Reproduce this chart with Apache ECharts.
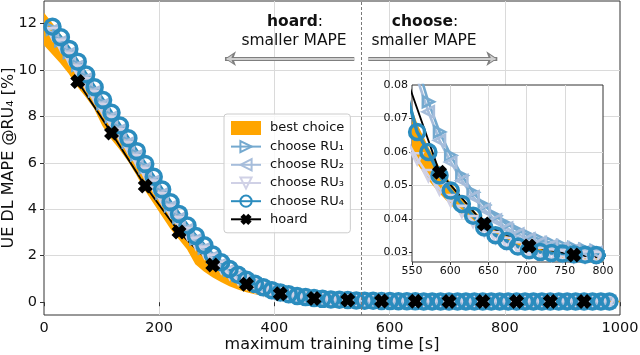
<!DOCTYPE html>
<html>
<head>
<meta charset="utf-8">
<script src="https://cdn.jsdelivr.net/npm/echarts@6/dist/echarts.min.js"></script>
<style>
  html, body { margin: 0; padding: 0; background: #fff; }
  #chart { width: 640px; height: 355px; }
</style>
</head>
<body>
<div id="chart"></div>
<script>
// x positions (training time, s)
const chooseX = [14.7, 29.3, 44.0, 58.6, 73.3, 87.9, 102.6, 117.2, 131.9, 146.5,
  161.2, 175.8, 190.5, 205.1, 219.8, 234.4, 249.1, 263.7, 278.4, 293.0,
  307.7, 322.3, 337.0, 351.6, 366.3, 380.9, 395.6, 410.2, 424.9, 439.5,
  454.2, 468.8, 483.5, 498.1, 512.8, 527.4, 542.1, 556.7, 571.4, 586.0,
  600.7, 615.3, 630.0, 644.6, 659.3, 673.9, 688.6, 703.2, 717.9, 732.5,
  747.2, 761.8, 776.5, 791.1, 805.8, 820.4, 835.1, 849.7, 864.4, 879.0,
  893.7, 908.3, 923.0, 937.6, 952.3, 966.9, 981.6];
const hoardX = [58.6, 117.2, 175.8, 234.4, 293.0, 351.6, 410.2, 468.8,
  527.4, 586.0, 644.6, 703.2, 761.8, 820.4, 879.0, 937.6];
const bandX = [0].concat(chooseX, [1000]);

// MAPE values [%]
const ru1 = [11.75, 11.25, 10.75, 10.2, 9.65, 9.1, 8.55, 8.0, 7.45, 6.9,
  6.35, 5.8, 5.25, 4.7, 4.15, 3.65, 3.17, 2.73, 2.34, 1.97,
  1.66, 1.39, 1.16, 0.96, 0.79, 0.65, 0.53, 0.43, 0.35, 0.28,
  0.23, 0.19, 0.16, 0.135, 0.118, 0.106, 0.096, 0.086, 0.075, 0.066,
  0.059, 0.053, 0.048, 0.0442, 0.041, 0.0385, 0.0366, 0.0351, 0.0339, 0.0329,
  0.0321, 0.0315, 0.031, 0.0306, 0.0303, 0.0301, 0.0299, 0.0297, 0.0296, 0.0295,
  0.0294, 0.0293, 0.0292, 0.0292, 0.0291, 0.0291, 0.029];
const ru2 = [11.7, 11.2, 10.7, 10.15, 9.6, 9.05, 8.5, 7.95, 7.4, 6.85,
  6.3, 5.75, 5.2, 4.65, 4.1, 3.6, 3.12, 2.68, 2.3, 1.94,
  1.63, 1.37, 1.14, 0.94, 0.77, 0.63, 0.51, 0.42, 0.34, 0.27,
  0.22, 0.18, 0.15, 0.128, 0.112, 0.1, 0.092, 0.082, 0.072, 0.0635,
  0.057, 0.0515, 0.0466, 0.0428, 0.0397, 0.0373, 0.0355, 0.0341, 0.033, 0.0321,
  0.0314, 0.0308, 0.0304, 0.03, 0.0298, 0.0296, 0.0294, 0.0293, 0.0292, 0.0291,
  0.029, 0.029, 0.0289, 0.0289, 0.0288, 0.0288, 0.0288];
const ru3 = [11.55, 11.05, 10.5, 9.95, 9.4, 8.85, 8.3, 7.75, 7.2, 6.65,
  6.1, 5.55, 5.0, 4.45, 3.92, 3.42, 2.95, 2.53, 2.15, 1.8,
  1.5, 1.25, 1.03, 0.84, 0.68, 0.55, 0.44, 0.35, 0.28, 0.22,
  0.18, 0.145, 0.118, 0.098, 0.083, 0.072, 0.064, 0.058, 0.053, 0.049,
  0.0455, 0.0423, 0.0393, 0.0366, 0.0345, 0.0328, 0.0315, 0.0305, 0.0298, 0.0293,
  0.029, 0.0288, 0.0287, 0.0286, 0.0285, 0.0285, 0.0284, 0.0284, 0.0284, 0.0283,
  0.0283, 0.0283, 0.0282, 0.0282, 0.0282, 0.0282, 0.0281];
const ru4 = [11.85, 11.4, 10.9, 10.35, 9.8, 9.25, 8.7, 8.15, 7.6, 7.05,
  6.5, 5.95, 5.4, 4.85, 4.3, 3.8, 3.3, 2.85, 2.45, 2.05,
  1.72, 1.43, 1.18, 0.97, 0.79, 0.64, 0.52, 0.42, 0.34, 0.27,
  0.22, 0.18, 0.145, 0.12, 0.105, 0.092, 0.078, 0.066, 0.06, 0.053,
  0.0485, 0.0445, 0.041, 0.0375, 0.0352, 0.0335, 0.0318, 0.0307, 0.0302, 0.0299,
  0.0297, 0.0295, 0.0294, 0.0293, 0.0292, 0.0291, 0.0291, 0.029, 0.029, 0.0289,
  0.0289, 0.0289, 0.0288, 0.0288, 0.0288, 0.0287, 0.0287];
const hoard = [9.5, 7.28, 5.0, 3.02, 1.6, 0.77, 0.36, 0.16,
  0.092, 0.054, 0.0385, 0.032, 0.0293, 0.0281, 0.0276, 0.0273];
const bandLow = [11.1,
  10.7, 10.3, 9.85, 9.3, 8.85, 8.35, 7.6, 7.05, 6.6, 6.1,
  5.5, 4.85, 4.3, 3.75, 3.2, 2.75, 2.3, 1.65, 1.35, 1.1,
  0.9, 0.72, 0.58, 0.46, 0.37, 0.3, 0.24, 0.2, 0.16, 0.135,
  0.115, 0.1, 0.09, 0.08, 0.072, 0.067, 0.062, 0.057, 0.052, 0.048,
  0.0445, 0.0415, 0.0388, 0.0366, 0.0347, 0.0332, 0.0319, 0.0308, 0.0299, 0.0292,
  0.0287, 0.0283, 0.028, 0.0277, 0.0275, 0.0273, 0.0272, 0.0271, 0.027, 0.0269,
  0.0268, 0.0268, 0.0267, 0.0267, 0.0266, 0.0266, 0.0265,
  0.0265];
const bandHigh = [12.4,
  11.95, 11.45, 10.9, 10.3, 9.75, 9.2, 8.65, 8.1, 7.55, 7.0,
  6.45, 5.9, 5.35, 4.8, 4.25, 3.75, 3.25, 2.8, 2.4, 2.0,
  1.68, 1.4, 1.15, 0.94, 0.77, 0.62, 0.5, 0.4, 0.32, 0.26,
  0.21, 0.17, 0.14, 0.115, 0.098, 0.086, 0.077, 0.068, 0.061, 0.055,
  0.0505, 0.0462, 0.0425, 0.0392, 0.0368, 0.0348, 0.0332, 0.032, 0.031, 0.0303,
  0.0297, 0.0293, 0.029, 0.0288, 0.0286, 0.0285, 0.0284, 0.0283, 0.0282, 0.0281,
  0.028, 0.028, 0.0279, 0.0279, 0.0278, 0.0278, 0.0277,
  0.0277];

// tick labels
const mainYTicks = [0, 2, 4, 6, 8, 10, 12];
const insetYTicks = [0.03, 0.04, 0.05, 0.06, 0.07, 0.08];

const FONT = 'DejaVu Sans';
const ORANGE = '#ffa500';
const C1 = '#74a9cf', C2 = '#a6bddb', C3 = '#d0d1e6', C4 = '#2b8cbe';
const XSYM = 'path://M0,3L3,0L5,2L7,0L10,3L8,5L10,7L7,10L5,8L3,10L0,7L2,5Z';

const pairs = (xs, ys) => xs.map((x, i) => [x, ys[i]]);

// filled band between bandLow and bandHigh, drawn once through the axis scales
function bandSeries(ax, extra) {
  return Object.assign({
    type: 'custom', name: 'best choice', xAxisIndex: ax, yAxisIndex: ax, clip: true,
    data: pairs(bandX, bandHigh), encode: { x: 0, y: 1 },
    itemStyle: { color: ORANGE },
    silent: true,
    renderItem: function (params, api) {
      if (params.dataIndex !== 0) return null;
      const top = bandX.map((x, i) => api.coord([x, bandHigh[i]]));
      const bottom = bandX.map((x, i) => api.coord([x, bandLow[i]])).reverse();
      return {
        type: 'polygon',
        shape: { points: top.concat(bottom) },
        style: { fill: ORANGE, stroke: ORANGE, lineWidth: 1.5 }
      };
    }
  }, extra || {});
}

function chooseSeries(ax, name, ys, color, symbol, rot, size, lw) {
  return {
    type: 'line', name: name, xAxisIndex: ax, yAxisIndex: ax,
    data: pairs(chooseX, ys), symbol: symbol, symbolRotate: rot, symbolSize: size,
    showAllSymbol: true,
    lineStyle: { color: color, width: lw },
    itemStyle: { color: 'rgba(0,0,0,0)', borderColor: color, borderWidth: lw },
    silent: true, emphasis: { disabled: true }
  };
}

function hoardSeries(ax, extra) {
  return Object.assign({
    type: 'line', name: 'hoard', xAxisIndex: ax, yAxisIndex: ax,
    data: pairs(hoardX, hoard), symbol: XSYM, symbolSize: 15,
    lineStyle: { color: '#000', width: 1.8 }, itemStyle: { color: '#000' },
    silent: true, emphasis: { disabled: true }
  }, extra || {});
}

function allSeries(ax, bandExtra, hoardExtra) {
  return [
    bandSeries(ax, bandExtra),
    chooseSeries(ax, 'choose RU₁', ru1, C1, 'triangle', -90, 11, 2.6),
    chooseSeries(ax, 'choose RU₂', ru2, C2, 'triangle', 90, 11, 2.6),
    chooseSeries(ax, 'choose RU₃', ru3, C3, 'triangle', 180, 11, 2.6),
    chooseSeries(ax, 'choose RU₄', ru4, C4, 'circle', 0, 15, 3.5),
    hoardSeries(ax, hoardExtra)
  ];
}

// arrows under the "hoard" / "choose" captions
const arrowY = 10.48;
const arrowOuter = { color: '#7f7f7f', width: 4, type: 'solid' };
const arrowInner = { color: '#cfcfcf', width: 2, type: 'solid' };
const hoardMarks = {
  markLine: {
    silent: true, animation: false, label: { show: false },
    symbol: ['none', 'arrow'],
    data: [
      [{ coord: [538.7, arrowY], lineStyle: arrowOuter, symbolSize: 11 }, { coord: [314.2, arrowY], symbolSize: 11 }],
      [{ coord: [538.7, arrowY], lineStyle: arrowInner, symbolSize: 6 }, { coord: [317, arrowY], symbolSize: 6 }],
      [{ coord: [563.0, arrowY], lineStyle: arrowOuter, symbolSize: 11 }, { coord: [787.0, arrowY], symbolSize: 11 }],
      [{ coord: [563.0, arrowY], lineStyle: arrowInner, symbolSize: 6 }, { coord: [784.0, arrowY], symbolSize: 6 }]
    ]
  }
};
const bandMarks = {
  markLine: {
    silent: true, animation: false, label: { show: false }, symbol: ['none', 'none'],
    lineStyle: { color: '#7a7a7a', width: 1, type: [3, 2] },
    data: [{ xAxis: 550 }]
  }
};

const tickFont = { fontFamily: FONT, fontSize: 14.5, color: '#111' };
const gridLine = { show: true, lineStyle: { color: '#dadada', width: 1 }, showMinLine: false, showMaxLine: false };

const chart = echarts.init(document.getElementById('chart'), null, { renderer: 'canvas' });
chart.setOption({
  animation: false,
  backgroundColor: '#fff',
  grid: [
    { left: 44, right: 20, top: 1, bottom: 40, show: true, borderColor: '#333', borderWidth: 1,
      containLabel: false, outerBoundsMode: 'none' },
    { left: 412, top: 85, width: 191, height: 177, show: true, backgroundColor: '#fff',
      borderColor: '#333', borderWidth: 1, z: 1, containLabel: false, outerBoundsMode: 'none' }
  ],
  xAxis: [
    { type: 'value', gridIndex: 0, min: 0, max: 1000, interval: 200,
      axisLine: { show: false }, axisTick: { show: true, length: 4, lineStyle: { color: '#333' } },
      axisLabel: Object.assign({ margin: 6, formatter: v => String(v) }, tickFont),
      splitLine: gridLine,
      name: 'maximum training time [s]', nameLocation: 'middle', nameGap: 22, nameMoveOverlap: false,
      nameTextStyle: { fontFamily: FONT, fontSize: 16, color: '#111' } },
    { type: 'value', gridIndex: 1, min: 550, max: 800, interval: 50, z: 1,
      axisLine: { show: false }, axisTick: { show: true, length: 3, lineStyle: { color: '#333' } },
      axisLabel: { margin: 4, fontFamily: FONT, fontSize: 11, color: '#111' },
      splitLine: gridLine }
  ],
  yAxis: [
    { type: 'value', gridIndex: 0, min: -0.55, max: 12.96,
      axisLine: { show: false },
      axisTick: { show: true, length: 4, lineStyle: { color: '#333' }, customValues: mainYTicks },
      axisLabel: Object.assign({ margin: 7, customValues: mainYTicks }, tickFont),
      splitLine: gridLine,
      name: 'UE DL MAPE @RU₄ [%]', nameLocation: 'middle', nameGap: 27, nameRotate: 90,
      nameMoveOverlap: false,
      nameTextStyle: { fontFamily: FONT, fontSize: 16, color: '#111' } },
    { type: 'value', gridIndex: 1, min: 0.0272, max: 0.08, z: 1,
      axisLine: { show: false },
      axisTick: { show: true, length: 3, lineStyle: { color: '#333' }, customValues: insetYTicks.slice(0, 5) },
      axisLabel: { margin: 4, fontFamily: FONT, fontSize: 11, color: '#111', customValues: insetYTicks,
        formatter: v => v.toFixed(2) },
      splitLine: gridLine }
  ],
  legend: {
    orient: 'vertical', left: 224, top: 114, padding: [7, 6], itemGap: 5,
    itemWidth: 30, itemHeight: 14,
    backgroundColor: 'rgba(255,255,255,0.8)', borderColor: '#cccccc', borderWidth: 1, borderRadius: 3,
    textStyle: { fontFamily: FONT, fontSize: 13, color: '#111', padding: [0, 0, 0, 4] },
    selectedMode: false,
    data: [{ name: 'best choice', icon: 'rect', itemStyle: { color: ORANGE } },
      'choose RU₁', 'choose RU₂', 'choose RU₃', 'choose RU₄', 'hoard']
  },
  graphic: [
    { type: 'text', x: 295, y: 22, z: 10, silent: true,
      style: { text: '{b|hoard}:', rich: { b: { fontWeight: 'bold', fontFamily: FONT, fontSize: 15.5, fill: '#111' } },
        fontFamily: FONT, fontSize: 15.5, fill: '#111', align: 'center', verticalAlign: 'middle' } },
    { type: 'text', x: 294, y: 41, z: 10, silent: true,
      style: { text: 'smaller MAPE', fontFamily: FONT, fontSize: 15.5, fill: '#111', align: 'center', verticalAlign: 'middle' } },
    { type: 'text', x: 425, y: 22, z: 10, silent: true,
      style: { text: '{b|choose}:', rich: { b: { fontWeight: 'bold', fontFamily: FONT, fontSize: 15.5, fill: '#111' } },
        fontFamily: FONT, fontSize: 15.5, fill: '#111', align: 'center', verticalAlign: 'middle' } },
    { type: 'text', x: 424, y: 41, z: 10, silent: true,
      style: { text: 'smaller MAPE', fontFamily: FONT, fontSize: 15.5, fill: '#111', align: 'center', verticalAlign: 'middle' } }
  ],
  series: allSeries(0, bandMarks, hoardMarks).concat(allSeries(1))
});
</script>
</body>
</html>
